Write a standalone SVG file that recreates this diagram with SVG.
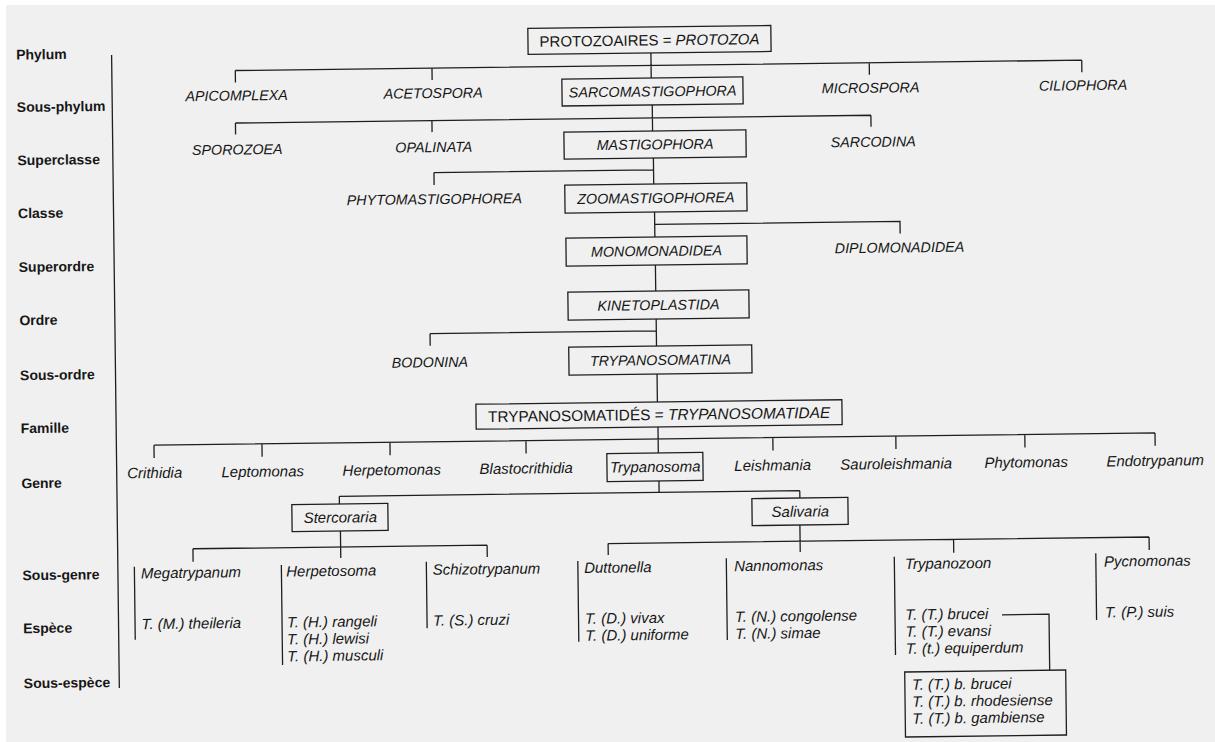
<svg xmlns="http://www.w3.org/2000/svg" width="1215" height="742" viewBox="0 0 1215 742">
<style>
text{font-family:"Liberation Sans",Arial,sans-serif;fill:#161616}
.rk{font-weight:bold;font-size:14px}
.c{font-style:italic;font-size:14.3px;text-anchor:middle}
.i{font-style:italic;font-size:15px}
.m{text-anchor:middle}
.bx{fill:none;stroke:#1e1e1e;stroke-width:1.3}
.ln{fill:none;stroke:#1e1e1e;stroke-width:1.3}
</style>
<rect width="1215" height="742" fill="#ffffff"/>
<rect x="6" y="5" width="1209" height="737" fill="#f0f0f0"/>
<g transform="rotate(-0.7 607 371)">
<g id="ranks">
<path class="ln" d="M115.5,49 V682"/>
<text class="rk" x="20" y="52.4">Phylum</text>
<text class="rk" x="20" y="104.8">Sous-phylum</text>
<text class="rk" x="20" y="158">Superclasse</text>
<text class="rk" x="20" y="211">Classe</text>
<text class="rk" x="20" y="264.8">Superordre</text>
<text class="rk" x="20" y="318">Ordre</text>
<text class="rk" x="20" y="373">Sous-ordre</text>
<text class="rk" x="20" y="426">Famille</text>
<text class="rk" x="20" y="481">Genre</text>
<text class="rk" x="20" y="573">Sous-genre</text>
<text class="rk" x="20" y="626">Espèce</text>
<text class="rk" x="20" y="681">Sous-espèce</text>
</g>
<g id="connectors" class="ln">
<path d="M654.8,53.5 V78.5 M239,66 H1085.5 M239,66 V78 M435.7,66 V78 M873,66 V78 M1085.5,66 V78"/>
<path d="M655.5,105.5 V131.6 M238.5,118.5 H874 M238.5,118.5 V130 M435,118.5 V130 M874,118.5 V130"/>
<path d="M656,158.6 V184.6 M436.4,170.5 H656 M436.4,170.5 V183"/>
<path d="M656.5,212.6 V237.6 M656.5,225 H901.8 V237"/>
<path d="M656.7,265.6 V291.6"/>
<path d="M656.8,319.6 V346.7 M430.5,331.5 H656.8 M430.5,331.5 V343.5"/>
<path d="M657,374.7 V402.6"/>
<path d="M657.3,427.6 V453.6 M153.1,439.6 H1154.2 M153.1,439.6 V452.5 M261.1,439.6 V452.5 M389.1,439.6 V452.5 M525.1,439.6 V452.5 M772,439.6 V452.5 M895,439.6 V452.5 M1024,439.6 V452.5 M1154.2,439.6 V452.5"/>
<path d="M657.6,481.6 V493 M337.8,493 H798.3 M337.8,493 V500.7 M798.3,493 V500.4"/>
<path d="M338.5,527.7 V554.7 M190.8,543.7 H485 M190.8,543.7 V556.7 M485,543.7 V555.5"/>
<path d="M798,527.4 V554.4 M606,543.6 H1147 M606,543.6 V555 M951.5,543.6 V556.9 M1147,543.6 V556.6"/>
<path d="M999,619.6 H1046 V675.6"/>
</g>
<g id="n-protozoa"><rect class="bx" x="532" y="27.5" width="243" height="26"/><text class="m" x="653.5" y="46" font-size="15">PROTOZOAIRES = <tspan font-style="italic">PROTOZOA</tspan></text></g>
<g id="n-apicomplexa"><text class="c" x="240" y="96">APICOMPLEXA</text></g>
<g id="n-acetospora"><text class="c" x="436.5" y="96">ACETOSPORA</text></g>
<g id="n-sarcomastigophora"><rect class="bx" x="565.4" y="78.5" width="181" height="27"/><text class="c" x="656" y="97">SARCOMASTIGOPHORA</text></g>
<g id="n-microspora"><text class="c" x="874" y="96">MICROSPORA</text></g>
<g id="n-ciliophora"><text class="c" x="1086.5" y="96">CILIOPHORA</text></g>
<g id="n-sporozoea"><text class="c" x="240" y="150">SPOROZOEA</text></g>
<g id="n-opalinata"><text class="c" x="436.5" y="150">OPALINATA</text></g>
<g id="n-mastigophora"><rect class="bx" x="566.8" y="131.6" width="182" height="27"/><text class="c" x="657.8" y="150">MASTIGOPHORA</text></g>
<g id="n-sarcodina"><text class="c" x="876" y="150">SARCODINA</text></g>
<g id="n-phytomastigophorea"><text class="c" x="436.5" y="202">PHYTOMASTIGOPHOREA</text></g>
<g id="n-zoomastigophorea"><rect class="bx" x="567" y="184.6" width="182" height="28"/><text class="c" x="658" y="203.6">ZOOMASTIGOPHOREA</text></g>
<g id="n-monomonadidea"><rect class="bx" x="567.5" y="237.6" width="181" height="28"/><text class="c" x="658" y="256.6">MONOMONADIDEA</text></g>
<g id="n-diplomonadidea"><text class="c" x="901" y="256">DIPLOMONADIDEA</text></g>
<g id="n-kinetoplastida"><rect class="bx" x="568.8" y="291.6" width="181" height="28"/><text class="c" x="659.3" y="310.6">KINETOPLASTIDA</text></g>
<g id="n-bodonina"><text class="c" x="430" y="365">BODONINA</text></g>
<g id="n-trypanosomatina"><rect class="bx" x="569" y="346.7" width="183" height="28"/><text class="c" x="660.6" y="365.7">TRYPANOSOMATINA</text></g>
<g id="n-trypanosomatidae"><rect class="bx" x="475.5" y="402.6" width="366" height="25"/><text class="m" x="658.5" y="420.6" font-size="15.4">TRYPANOSOMATIDÉS = <tspan font-style="italic">TRYPANOSOMATIDAE</tspan></text></g>
<g id="n-crithidia"><text class="i m" x="153.5" y="472.5">Crithidia</text></g>
<g id="n-leptomonas"><text class="i m" x="261.5" y="472.5">Leptomonas</text></g>
<g id="n-herpetomonas"><text class="i m" x="390.5" y="472.5">Herpetomonas</text></g>
<g id="n-blastocrithidia"><text class="i m" x="525" y="472.5">Blastocrithidia</text></g>
<g id="n-trypanosoma"><rect class="bx" x="605.8" y="453.6" width="96" height="28"/><text class="i m" x="654" y="472.6">Trypanosoma</text></g>
<g id="n-leishmania"><text class="i m" x="771.5" y="472.5">Leishmania</text></g>
<g id="n-sauroleishmania"><text class="i m" x="895" y="472.5">Sauroleishmania</text></g>
<g id="n-phytomonas"><text class="i m" x="1025" y="472.5">Phytomonas</text></g>
<g id="n-endotrypanum"><text class="i m" x="1154" y="472.5">Endotrypanum</text></g>
<g id="n-stercoraria"><rect class="bx" x="290.2" y="500.7" width="96" height="27"/><text class="i m" x="338.5" y="519.3">Stercoraria</text></g>
<g id="n-salivaria"><rect class="bx" x="750.3" y="500.4" width="96" height="27"/><text class="i m" x="798.5" y="519">Salivaria</text></g>
<g id="n-megatrypanum"><path class="ln" d="M132,561 V634"/><text class="i" x="138.5" y="572.7">Megatrypanum</text><text class="i" x="138.5" y="623.5">T. (M.) theileria</text></g>
<g id="n-herpetosoma"><path class="ln" d="M279,561 V661"/><text class="i" x="283.8" y="572.7">Herpetosoma</text><text class="i" x="283.8" y="623.5">T. (H.) rangeli</text><text class="i" x="283.8" y="640.5">T. (H.) lewisi</text><text class="i" x="283.8" y="657.5">T. (H.) musculi</text></g>
<g id="n-schizotrypanum"><path class="ln" d="M424,559.5 V626"/><text class="i" x="430.3" y="572.7">Schizotrypanum</text><text class="i" x="430" y="623.5">T. (S.) cruzi</text></g>
<g id="n-duttonella"><path class="ln" d="M575.5,560.6 V641.3"/><text class="i" x="581.7" y="572.7">Duttonella</text><text class="i" x="582" y="623.5">T. (D.) vivax</text><text class="i" x="582" y="640.5">T. (D.) uniforme</text></g>
<g id="n-nannomonas"><path class="ln" d="M724,559.8 V641.5"/><text class="i" x="731.7" y="572.7">Nannomonas</text><text class="i" x="732" y="623.5">T. (N.) congolense</text><text class="i" x="732" y="640.5">T. (N.) simae</text></g>
<g id="n-trypanozoon"><path class="ln" d="M892,560.2 V658.5"/><text class="i" x="902.5" y="572.7">Trypanozoon</text><text class="i" x="902.3" y="623.5">T. (T.) brucei</text><text class="i" x="902.3" y="640.5">T. (T.) evansi</text><text class="i" x="902.3" y="657.5">T. (t.) equiperdum</text></g>
<g id="n-pycnomonas"><path class="ln" d="M1093.5,559.3 V626"/><text class="i" x="1101.7" y="572.7">Pycnomonas</text><text class="i" x="1102" y="623.5">T. (P.) suis</text></g>
<g id="n-brucei-subspecies"><rect class="bx" x="901" y="675.6" width="161" height="65"/><text class="i" x="908" y="693.5">T. (T.) b. brucei</text><text class="i" x="908" y="710.5">T. (T.) b. rhodesiense</text><text class="i" x="908" y="727.5">T. (T.) b. gambiense</text></g>
</g>
</svg>
